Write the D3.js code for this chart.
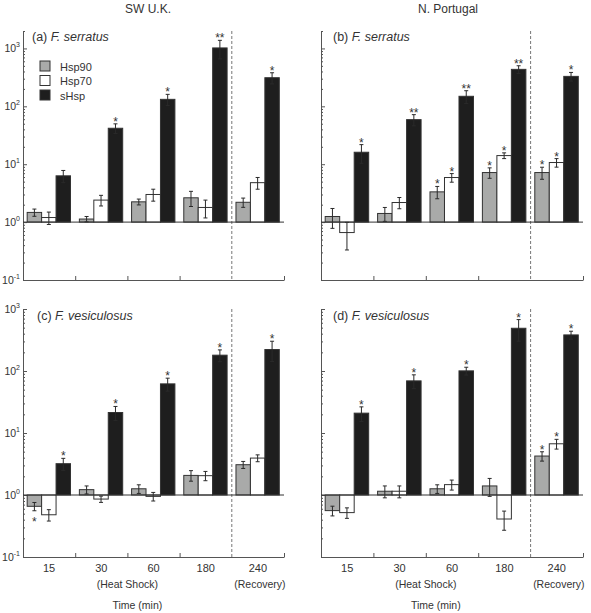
<!DOCTYPE html>
<html lang="en">
<head>
    <meta charset="UTF-8">
    <title>Hsp expression, F. serratus and F. vesiculosus</title>
    <script src="https://d3js.org/d3.v7.min.js"></script>
    <style>
        body { margin: 0; background: #fff; }
        text { font-family: "Liberation Sans", Arial, sans-serif; fill: #333; }
    </style>
</head>
<body>
    <script>
        // Data
        const groups = ["15", "30", "60", "180", "240"];
        const series = ["Hsp90", "Hsp70", "sHsp"];

        // (a) SW U.K., F. serratus
        const aHsp90 = [1.47, 1.13, 2.24, 2.63, 2.2];
        const aHsp70 = [1.2, 2.4, 3.0, 1.79, 4.8];
        const aSHsp = [6.3, 41.8, 132, 1020, 312];
        const aHsp90Err = [0.21, 0.12, 0.26, 0.77, 0.4];
        const aHsp70Err = [0.29, 0.5, 0.7, 0.61, 1.1];
        const aSHspErr = [1.5, 8, 29, 360, 68];
        const aHsp90Sig = ["", "", "", "", ""];
        const aHsp70Sig = ["", "", "", "", ""];
        const aSHspSig = ["", "*", "*", "**", "*"];

        // (b) N. Portugal, F. serratus
        const bHsp90 = [1.25, 1.41, 3.33, 7.18, 7.18];
        const bHsp70 = [0.66, 2.18, 5.89, 14.1, 10.7];
        const bSHsp = [16.1, 58.9, 149, 435, 329];
        const bHsp90Err = [0.47, 0.38, 0.8, 1.47, 1.69];
        const bHsp70Err = [0.33, 0.48, 1.0, 1.6, 1.8];
        const bSHspErr = [5.7, 12.9, 37, 67, 56];
        const bHsp90Sig = ["", "", "*", "*", "*"];
        const bHsp70Sig = ["", "", "*", "*", "*"];
        const bSHspSig = ["*", "**", "**", "**", "*"];

        // (c) SW U.K., F. vesiculosus
        const cHsp90 = [0.657, 1.22, 1.26, 2.07, 3.08];
        const cHsp70 = [0.48, 0.86, 0.95, 2.05, 3.94];
        const cSHsp = [3.2, 21.4, 62, 180, 222];
        const cHsp90Err = [0.1, 0.18, 0.2, 0.4, 0.4];
        const cHsp70Err = [0.1, 0.1, 0.15, 0.35, 0.5];
        const cSHspErr = [0.7, 5.4, 14.6, 39, 80];
        const cHsp90Sig = ["*", "", "", "", ""];
        const cHsp70Sig = ["", "", "", "", ""];
        const cSHspSig = ["*", "*", "*", "*", "*"];

        // (d) N. Portugal, F. vesiculosus
        const dHsp90 = [0.56, 1.15, 1.26, 1.4, 4.25];
        const dHsp70 = [0.52, 1.15, 1.47, 0.41, 6.7];
        const dSHsp = [20.9, 69.3, 100.5, 489, 382];
        const dHsp90Err = [0.1, 0.25, 0.2, 0.45, 0.73];
        const dHsp70Err = [0.1, 0.25, 0.27, 0.14, 1.2];
        const dSHspErr = [5.5, 17.4, 14.5, 186, 56];
        const dHsp90Sig = ["", "", "", "", "*"];
        const dHsp70Sig = ["", "", "", "", "*"];
        const dSHspSig = ["*", "*", "*", "*", "*"];

        const majorTicks = [0.1, 1, 10, 100, 1000];
        const tickExp = ["-1", "0", "1", "2", "3"];
        const fills = ["#a9aaa9", "#ffffff", "#1e1e1e"];

        const width = 591, height = 613;
        const svg = d3.select("body").append("svg")
            .attr("width", width)
            .attr("height", height);

        // column titles
        svg.append("text").attr("x", 148).attr("y", 13)
            .attr("text-anchor", "middle").attr("font-size", 12).text("SW U.K.");
        svg.append("text").attr("x", 448).attr("y", 13)
            .attr("text-anchor", "middle").attr("font-size", 12).text("N. Portugal");

        function panel(cfg, vals, errs, sigs) {
            const g = svg.append("g");
            const x = d3.scaleBand().domain(groups).range([cfg.x0, cfg.x1]);
            const bw = x.bandwidth();
            const xs = d3.scaleBand().domain(series).range([bw * 0.08, bw * 0.91]);
            const y = d3.scaleLog().domain([0.1, cfg.top]).range([cfg.y1, cfg.y0]);

            // minor ticks
            const minor = [];
            for (let e = -1; e <= 3; e++) {
                for (let m = 2; m <= 9; m++) {
                    const v = m * Math.pow(10, e);
                    if (v <= cfg.top * 1.0001) minor.push(v);
                }
            }
            g.append("g")
                .attr("transform", `translate(${cfg.x0},0)`)
                .call(d3.axisLeft(y).tickValues(minor).tickSizeInner(-2).tickSizeOuter(0).tickFormat(""))
                .call(a => a.select(".domain").remove())
                .call(a => a.selectAll("line").attr("stroke", "#555"));

            const ya = g.append("g")
                .attr("transform", `translate(${cfg.x0},0)`)
                .call(d3.axisLeft(y).tickValues(majorTicks).tickSizeInner(-4).tickSizeOuter(0).tickPadding(3));
            ya.select(".domain").attr("stroke", "#555");
            ya.selectAll("line").attr("stroke", "#555");
            ya.selectAll(".tick text").each(function(d, i) {
                const t = d3.select(this).text("").attr("font-size", 10.5)
                    .attr("font-family", "Liberation Sans, Arial, sans-serif").attr("fill", "#333");
                if (!cfg.yLabels) return;
                t.append("tspan").text("10");
                t.append("tspan").attr("dy", -5).attr("font-size", 7).text(tickExp[i]);
            });

            // x axis with ticks at group boundaries
            const bounds = groups.map(k => x(k) + bw).filter((b, i) => i !== 3);
            const xl = d3.scaleLinear().domain([cfg.x0, cfg.x1]).range([cfg.x0, cfg.x1]);
            const xa = g.append("g")
                .attr("transform", `translate(0,${cfg.y1})`)
                .call(d3.axisBottom(xl).tickValues(bounds).tickSizeInner(-4).tickSizeOuter(0).tickFormat(""));
            xa.select(".domain").attr("stroke", "#555");
            xa.selectAll("line").attr("stroke", "#555");

            // dashed line before recovery
            g.append("line")
                .attr("x1", x("240")).attr("x2", x("240"))
                .attr("y1", cfg.y0).attr("y2", cfg.y1)
                .attr("stroke", "#777").attr("stroke-dasharray", "3,2");

            // bars
            series.forEach((s, si) => {
                groups.forEach((grp, gi) => {
                    const v = vals[si][gi], e = errs[si][gi];
                    const bx = x(grp) + xs(s);
                    const w = xs.bandwidth();
                    g.append("rect")
                        .attr("x", bx).attr("width", w)
                        .attr("y", Math.min(y(v), y(1)))
                        .attr("height", Math.abs(y(v) - y(1)))
                        .attr("fill", fills[si])
                        .attr("stroke", "#333").attr("stroke-width", 1);
                    const cx = bx + w / 2;
                    const yHi = y(v + e), yLo = y(v - e);
                    g.append("line").attr("x1", cx).attr("x2", cx)
                        .attr("y1", yHi).attr("y2", yLo)
                        .attr("stroke", "#2a2a2a");
                    [yHi, yLo].forEach(yy => g.append("line")
                        .attr("x1", cx - 2).attr("x2", cx + 2)
                        .attr("y1", yy).attr("y2", yy)
                        .attr("stroke", "#2a2a2a"));
                    const sg = sigs[si][gi];
                    if (sg) {
                        g.append("text")
                            .attr("x", cx)
                            .attr("y", v < 1 ? yLo + 15 : yHi + 2)
                            .attr("text-anchor", "middle")
                            .attr("font-size", 12)
                            .attr("fill", "#222")
                            .text(sg);
                    }
                });
            });

            // baseline at 1
            g.append("line")
                .attr("x1", cfg.x0).attr("x2", cfg.x1)
                .attr("y1", y(1)).attr("y2", y(1))
                .attr("stroke", "#333");

            // panel label
            const lab = g.append("text")
                .attr("x", cfg.x0 + cfg.labelDx).attr("y", cfg.y0 + cfg.labelDy)
                .attr("font-size", 12.5);
            lab.append("tspan").text(cfg.letter + " ");
            lab.append("tspan").attr("font-style", "italic").text(cfg.species);

            if (cfg.xLabels) {
                g.selectAll(".grp").data(groups).join("text")
                    .attr("x", d => x(d) + bw / 2)
                    .attr("y", cfg.y1 + 15)
                    .attr("text-anchor", "middle")
                    .attr("font-size", 11)
                    .text(d => d);
                g.append("text").attr("x", x("60")).attr("y", cfg.y1 + 31)
                    .attr("text-anchor", "middle").attr("font-size", 10.5).text("(Heat Shock)");
                g.append("text").attr("x", x("240") + bw / 2 + 2).attr("y", cfg.y1 + 31)
                    .attr("text-anchor", "middle").attr("font-size", 10.5).text("(Recovery)");
                g.append("text").attr("x", x("60") + 10).attr("y", cfg.y1 + 52)
                    .attr("text-anchor", "middle").attr("font-size", 10.5).text("Time (min)");
            }
            return g;
        }

        const pa = panel({x0: 23, x1: 284, y0: 31, y1: 280, top: 2000, yLabels: true, xLabels: false,
                letter: "(a)", species: "F. serratus", labelDx: 9, labelDy: 10},
            [aHsp90, aHsp70, aSHsp], [aHsp90Err, aHsp70Err, aSHspErr], [aHsp90Sig, aHsp70Sig, aSHspSig]);
        panel({x0: 321, x1: 583, y0: 31, y1: 280, top: 2000, yLabels: false, xLabels: false,
                letter: "(b)", species: "F. serratus", labelDx: 12, labelDy: 10},
            [bHsp90, bHsp70, bSHsp], [bHsp90Err, bHsp70Err, bSHspErr], [bHsp90Sig, bHsp70Sig, bSHspSig]);
        panel({x0: 23, x1: 284, y0: 309, y1: 557, top: 1000, yLabels: true, xLabels: true,
                letter: "(c)", species: "F. vesiculosus", labelDx: 14, labelDy: 11},
            [cHsp90, cHsp70, cSHsp], [cHsp90Err, cHsp70Err, cSHspErr], [cHsp90Sig, cHsp70Sig, cSHspSig]);
        panel({x0: 321, x1: 583, y0: 309, y1: 557, top: 1000, yLabels: false, xLabels: true,
                letter: "(d)", species: "F. vesiculosus", labelDx: 12, labelDy: 11},
            [dHsp90, dHsp70, dSHsp], [dHsp90Err, dHsp70Err, dSHspErr], [dHsp90Sig, dHsp70Sig, dSHspSig]);

        // legend in panel (a)
        const leg = pa.append("g").attr("transform", "translate(40,61)");
        series.forEach((s, i) => {
            leg.append("rect").attr("x", 0).attr("y", i * 14.5)
                .attr("width", 10).attr("height", 10)
                .attr("fill", fills[i]).attr("stroke", "#333");
            leg.append("text").attr("x", 20).attr("y", i * 14.5 + 9.5)
                .attr("font-size", 11).text(s);
        });
    </script>
</body>
</html>
